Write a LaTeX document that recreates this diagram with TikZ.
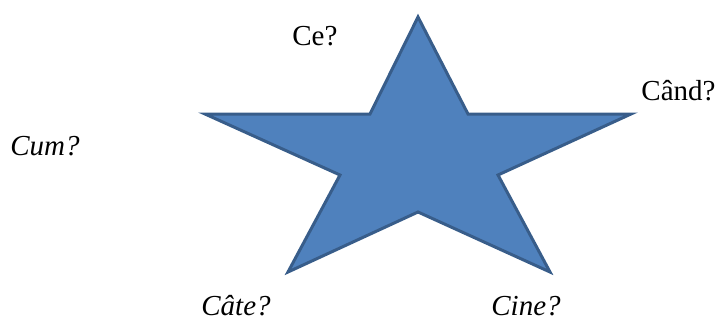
\documentclass[tikz,border=0pt]{standalone}
\usepackage{fontspec}
\setmainfont{Liberation Serif}
\usetikzlibrary{positioning}
\definecolor{starblue}{HTML}{4F81BD}
\definecolor{staredge}{HTML}{385D8A}

\begin{document}
\begin{tikzpicture}[x=0.5pt, y=-0.5pt,
  qword/.style={inner sep=0pt, anchor=base west, font=\fontsize{14.5}{17}\selectfont},
  qitalic/.style={qword, font=\fontsize{14.5}{17}\selectfont\itshape}]
  \useasboundingbox (0,0) rectangle (723,321);
  % the star
  \filldraw[fill=starblue, draw=staredge, line width=1.5pt]
    (418,17) -- (468,114) -- (631,114) -- (498,175) -- (550,272)
    -- (418,212) -- (288,272) -- (340,175) -- (205,114) -- (370,114) -- cycle;
  % the questions
  \node[qword] (ce) at (292,45) {Ce?};
  \node[qword] (cand) at (641,100) {Când?};
  \node[qitalic] (cum) at (10,155) {Cum?};
  \node[qitalic] (cate) at (201,315) {Câte?};
  \node[qitalic] (cine) at (491,315) {Cine?};
\end{tikzpicture}
\end{document}
